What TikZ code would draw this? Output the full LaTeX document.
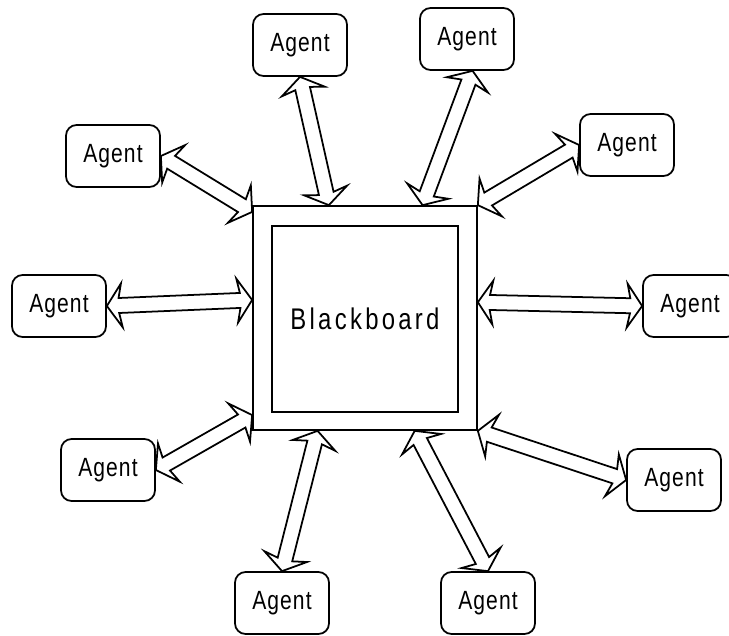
\documentclass[tikz,border=0pt]{standalone}
\usepackage{fontspec}
\setmainfont{Liberation Sans}
\newfontfamily\agentfont[FakeStretch=0.8,LetterSpace=4]{Liberation Sans}
\newfontfamily\boardfont[FakeStretch=0.8,LetterSpace=11]{Liberation Sans}
\usepackage{tikz}
\usetikzlibrary{positioning, calc}

% hollow arrow with a head at both ends
\newcommand{\dblarrow}[2]{%
  \draw[fill=white, line join=miter] (#1)
    -- ($(#1)!0.3cm!(#2)!0.44cm!90:(#2)$)
    -- ($(#1)!0.24cm!(#2)!0.15cm!90:(#2)$)
    -- ($(#2)!0.24cm!(#1)!0.15cm!-90:(#1)$)
    -- ($(#2)!0.3cm!(#1)!0.44cm!-90:(#1)$)
    -- (#2)
    -- ($(#2)!0.3cm!(#1)!0.44cm!90:(#1)$)
    -- ($(#2)!0.24cm!(#1)!0.15cm!90:(#1)$)
    -- ($(#1)!0.24cm!(#2)!0.15cm!-90:(#2)$)
    -- ($(#1)!0.3cm!(#2)!0.44cm!-90:(#2)$)
    -- cycle;}

\tikzset{
  agent/.style={draw, rounded corners=6pt, minimum width=1.88cm,
    minimum height=1.24cm, font=\agentfont\fontsize{15}{18}\selectfont},
  board/.style={draw, minimum size=4.48cm},
}

\begin{document}
\begin{tikzpicture}[x=0.02cm, y=-0.02cm, line width=1pt]
  \useasboundingbox (0,0) rectangle (729,635);

  \node[board] (bb) at (365,318) {};
  \node[draw, minimum size=3.72cm, font=\boardfont\fontsize{17}{20}\selectfont] (inner) at (365,319) {Blackboard};

  \node[agent] (a1) at (300,45) {Agent};
  \node[agent] (a2) at (467,39) {Agent};
  \node[agent] (a3) at (113,156) {Agent};
  \node[agent] (a4) at (627,145) {Agent};
  \node[agent] (a5) at (59,306) {Agent};
  \node[agent] (a6) at (690,306) {Agent};
  \node[agent] (a7) at (108,470) {Agent};
  \node[agent] (a8) at (674,480) {Agent};
  \node[agent] (a9) at (282,603) {Agent};
  \node[agent] (a10) at (488,603) {Agent};

  % where the arrows meet the board
  \coordinate (t1) at ($(bb.north west)!0.34!(bb.north east)$);
  \coordinate (t2) at ($(bb.north west)!0.755!(bb.north east)$);
  \coordinate (t3) at ($(bb.north west)!0.03!(bb.south west)$);
  \coordinate (t4) at (bb.north east);
  \coordinate (t5) at ($(bb.north west)!0.42!(bb.south west)$);
  \coordinate (t6) at ($(bb.north east)!0.43!(bb.south east)$);
  \coordinate (t7) at ($(bb.north west)!0.93!(bb.south west)$);
  \coordinate (t8) at (bb.south east);
  \coordinate (t9) at ($(bb.south west)!0.29!(bb.south east)$);
  \coordinate (t10) at ($(bb.south west)!0.72!(bb.south east)$);

  \dblarrow{a1.south}{t1}
  \dblarrow{a2.-80}{t2}
  \dblarrow{a3.east}{t3}
  \dblarrow{a4.west}{t4}
  \dblarrow{a5.east}{t5}
  \dblarrow{a6.west}{t6}
  \dblarrow{a7.east}{t7}
  \dblarrow{a8.west}{t8}
  \dblarrow{a9.north}{t9}
  \dblarrow{a10.north}{t10}
\end{tikzpicture}
\end{document}
